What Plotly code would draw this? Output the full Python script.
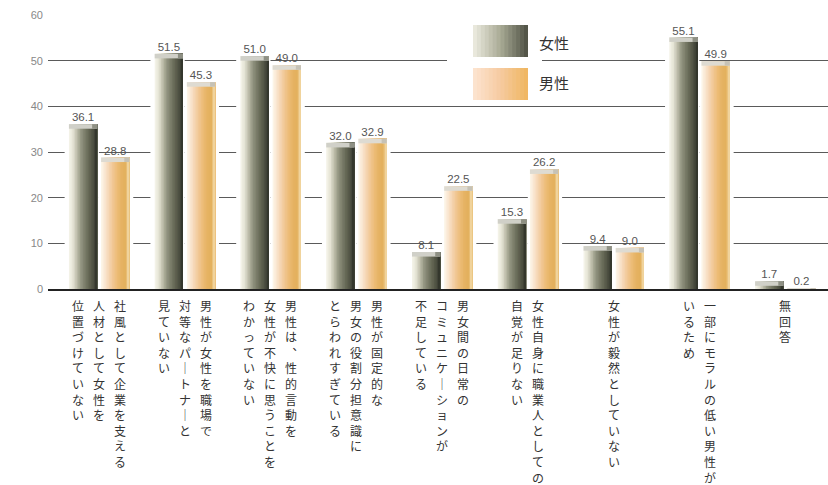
import plotly.graph_objects as go

# ---------------- data ----------------
women = [36.1, 51.5, 51.0, 32.0, 8.1, 15.3, 9.4, 55.1, 1.7]
men = [28.8, 45.3, 49.0, 32.9, 22.5, 26.2, 9.0, 49.9, 0.2]
series_names = ["女性", "男性"]
label_lines = [
    ["社風として企業を支える", "人材として女性を", "位置づけていない"],
    ["男性が女性を職場で", "対等なパートナーと", "見ていない"],
    ["男性は、性的言動を", "女性が不快に思うことを", "わかっていない"],
    ["男性が固定的な", "男女の役割分担意識に", "とらわれすぎている"],
    ["男女間の日常の", "コミュニケーションが", "不足している"],
    ["女性自身に職業人としての", "自覚が足りない"],
    ["女性が毅然としていない"],
    ["一部にモラルの低い男性が", "いるため"],
    ["無回答"],
]
y_ticks = [0, 10, 20, 30, 40, 50, 60]

# ---------------- style ----------------
W, H = 828, 485
ML, MR, MT, MB = 48, 0, 15, 196
PW, PH = W - ML - MR, H - MT - MB
FONT_JP = "Noto Sans CJK JP"
BAR_W = 0.33
W_OFF = -0.35
M_OFF = 0.025
CAP = 1.0
NSTRIPE = 18

women_stops = ["#f7f6ec", "#e4e3d4", "#bdbdaa", "#939581", "#7a7c69", "#636653", "#4d5042", "#2e3128"]
men_stops = ["#fdf7ec", "#f9e5cf", "#f5d4b0", "#f1c692", "#ecbc76", "#e6b364", "#e3b05c", "#f3dcab"]


def lerp_color(stops, t):
    seg = t * (len(stops) - 1)
    i = min(int(seg), len(stops) - 2)
    f = seg - i
    a = [int(stops[i][k:k + 2], 16) for k in (1, 3, 5)]
    b = [int(stops[i + 1][k:k + 2], 16) for k in (1, 3, 5)]
    return "#" + "".join(f"{round(x + (y - x) * f):02x}" for x, y in zip(a, b))


xpos = list(range(len(women)))
fig = go.Figure()

# white glow behind bars (hides gridlines like the original)
for vals, off in ((women, -0.40), (men, 0.0)):
    fig.add_trace(go.Bar(x=xpos, y=vals, offset=off, width=0.40, marker_color="white",
                         marker_line_width=0, hoverinfo="skip", showlegend=False))

# shaded cylinder: overlapping stripes, each later one covers the rest to the right
for vals, off, stops, name in ((women, W_OFF, women_stops, series_names[0]),
                               (men, M_OFF, men_stops, series_names[1])):
    for k in range(NSTRIPE):
        a = k / NSTRIPE
        fig.add_trace(go.Bar(x=xpos, y=vals, offset=off + BAR_W * a, width=BAR_W * (1 - a),
                             marker_color=lerp_color(stops, (k + 0.5) / NSTRIPE),
                             marker_line_width=0, name=name,
                             hoverinfo="skip", showlegend=False))

# caps on top of bars
for vals, off, c1, c2 in ((women, W_OFF, "#d0d0c8", "#8e9084"), (men, M_OFF, "#dedbd2", "#c6c2b6")):
    base = [max(v - CAP, 0) for v in vals]
    hgt = [v - b for v, b in zip(vals, base)]
    fig.add_trace(go.Bar(x=xpos, y=hgt, base=base, offset=off, width=BAR_W,
                         marker_color=c1, marker_line_width=0, hoverinfo="skip", showlegend=False))
    fig.add_trace(go.Bar(x=xpos, y=hgt, base=base, offset=off + BAR_W * 0.82, width=BAR_W * 0.18,
                         marker_color=c2, marker_line_width=0, hoverinfo="skip", showlegend=False))

# value labels
for vals, off in ((women, W_OFF), (men, M_OFF)):
    fig.add_trace(go.Scatter(x=[i + off + BAR_W / 2 for i in xpos], y=vals, mode="text",
                             text=[f"{v:.1f}" for v in vals], textposition="top center",
                             textfont=dict(family="Liberation Sans", size=11.5, color="#555555"),
                             cliponaxis=False, hoverinfo="skip", showlegend=False))

annotations = []
# vertical category labels (first line = rightmost column)
COL_SP = 21
for i, lines in enumerate(label_lines):
    n = len(lines)
    for j, line in enumerate(lines):
        vert = line.replace("ー", "｜").replace("、", "︑")
        annotations.append(dict(
            x=i, xref="x", y=0, yref="paper", yanchor="top", xanchor="center",
            xshift=((n - 1) / 2 - j) * COL_SP, yshift=-6,
            text="<br>".join(vert), showarrow=False, align="center",
            font=dict(family=FONT_JP, size=12, color="#333333")))


def px_x(p):
    return (p - ML) / PW


def px_y(p):
    return (MT + PH - p) / PH


shapes = [dict(type="rect", xref="paper", yref="paper", layer="above",
               x0=px_x(447), x1=px_x(542), y0=px_y(104), y1=px_y(18),
               fillcolor="white", line_width=0)]
legend_grads = [(["#eeede2", "#a9aa95", "#4d5043"], 25, 57),
                (["#fde5d2", "#f6caa0", "#efb65e"], 68, 100)]
NS = 14
for stops, y0, y1 in legend_grads:
    for s in range(NS):
        xa = 473 + (528 - 473) * s / NS
        shapes.append(dict(type="rect", xref="paper", yref="paper", layer="above",
                           x0=px_x(xa), x1=px_x(528), y0=px_y(y1), y1=px_y(y0),
                           fillcolor=lerp_color(stops, (s + 0.5) / NS), line_width=0))
for name, yc in zip(series_names, (42, 82)):
    annotations.append(dict(x=px_x(537), y=px_y(yc), xref="paper", yref="paper",
                            xanchor="left", yanchor="middle", text=name, showarrow=False,
                            font=dict(family=FONT_JP, size=15, color="#333333")))

fig.update_layout(
    width=W, height=H, margin=dict(l=ML, r=MR, t=MT, b=MB),
    paper_bgcolor="white", plot_bgcolor="white",
    barmode="overlay", showlegend=False,
    shapes=shapes, annotations=annotations,
    xaxis=dict(range=[-0.594, 8.5], showgrid=False, showticklabels=False, zeroline=False,
               showline=True, linecolor="#222222", linewidth=2, ticks="", fixedrange=True),
    yaxis=dict(range=[0, 60], tickvals=y_ticks, showgrid=True, gridcolor="#5a5a5a", gridwidth=1.4,
               zeroline=False, showline=False, ticks="", ticklabelstandoff=4,
               tickfont=dict(family="Liberation Sans", size=11, color="#888888"), fixedrange=True),
)

fig.write_html("out.html")
